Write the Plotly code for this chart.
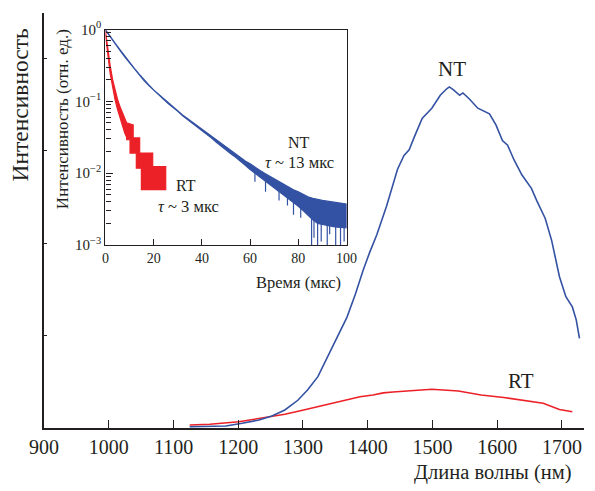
import plotly.graph_objects as go

# ---------------- main spectrum data ----------------
nt_wl = [1125, 1181, 1206, 1232, 1252, 1272, 1292, 1307, 1323, 1338, 1353, 1368, 1381, 1386,
         1393, 1403, 1414, 1429, 1446, 1456, 1464, 1472, 1484, 1499, 1512, 1522, 1526, 1532,
         1537, 1542, 1547, 1557, 1570, 1578, 1588, 1598, 1608, 1616, 1626, 1638, 1653, 1661,
         1674, 1684, 1696, 1706, 1716, 1722, 1724, 1727]
nt_int = [0.014, 0.022, 0.051, 0.086, 0.13, 0.195, 0.30, 0.41, 0.555, 0.77, 0.99, 1.20, 1.45, 1.56,
          1.71, 1.90, 2.09, 2.40, 2.80, 2.95, 3.01, 3.15, 3.35, 3.46, 3.60, 3.67, 3.69, 3.66,
          3.63, 3.60, 3.625, 3.56, 3.46, 3.43, 3.40, 3.28, 3.11, 3.06, 2.90, 2.74, 2.59, 2.46,
          2.27, 2.03, 1.64, 1.42, 1.31, 1.17, 1.10, 0.97]

rt_wl = [1125, 1156, 1201, 1242, 1272, 1301, 1323, 1358, 1388, 1408, 1424, 1439, 1499, 1540,
         1575, 1610, 1671, 1696, 1716]
rt_int = [0.032, 0.040, 0.068, 0.115, 0.148, 0.195, 0.23, 0.284, 0.338, 0.357, 0.38, 0.39, 0.42,
          0.40, 0.357, 0.33, 0.267, 0.20, 0.176]

x_ticks = [900, 1000, 1100, 1200, 1300, 1400, 1500, 1600, 1700]

# ---------------- inset decay data (log10 of intensity) ----------------
nt_t = [0, 2, 4, 6, 8, 10, 12, 14, 16, 18, 20, 22, 24, 26, 28, 30, 32, 34, 36, 38, 40, 42, 44,
        46, 48, 50, 52, 54, 56, 58, 60, 62, 64, 66, 68, 70, 72, 74, 76, 78, 80, 82, 84, 86, 88,
        90, 92, 94, 96, 98, 100]
nt_upper_log = [0.0, -0.10, -0.19, -0.28, -0.37, -0.46, -0.54, -0.62, -0.70, -0.77, -0.84, -0.90,
                -0.96, -1.02, -1.08, -1.13, -1.19, -1.24, -1.29, -1.34, -1.39, -1.44, -1.49, -1.54,
                -1.59, -1.64, -1.69, -1.73, -1.78, -1.83, -1.87, -1.92, -1.96, -2.00, -2.04, -2.08,
                -2.12, -2.16, -2.19, -2.23, -2.26, -2.30, -2.33, -2.35, -2.37, -2.38, -2.39, -2.40,
                -2.41, -2.42, -2.43]
nt_lower_log = [-0.01, -0.11, -0.20, -0.29, -0.38, -0.47, -0.55, -0.63, -0.71, -0.78, -0.85, -0.91,
                -0.97, -1.03, -1.09, -1.14, -1.20, -1.25, -1.30, -1.35, -1.41, -1.46, -1.51, -1.57,
                -1.62, -1.68, -1.73, -1.78, -1.83, -1.89, -1.95, -2.01, -2.06, -2.11, -2.16, -2.21,
                -2.26, -2.31, -2.36, -2.41, -2.46, -2.52, -2.58, -2.65, -2.70, -2.72, -2.73, -2.74,
                -2.75, -2.76, -2.76]
nt_spike_t = [62.0, 66.4, 72.0, 75.5, 78.0, 81.0, 85.5, 86.5, 88.0, 89.5, 92.0, 93.0, 95.5, 97.5, 99.0]
nt_spike_top_log = [-1.95, -2.05, -2.2, -2.25, -2.3, -2.35, -2.45, -2.45, -2.5, -2.5, -2.5, -2.5,
                    -2.5, -2.5, -2.5]
nt_spike_bottom_log = [-2.12, -2.26, -2.38, -2.45, -2.58, -2.62, -3.0, -2.9, -3.0, -2.95, -3.0,
                       -2.85, -3.0, -3.0, -2.95]

rt_upper_t = [0, 0.5, 1, 1.5, 2, 3, 4, 5, 6, 7, 8, 8.8, 11.5, 11.5, 14.2, 14.2, 19.6, 19.6, 25]
rt_upper_log = [-0.02, -0.15, -0.27, -0.40, -0.51, -0.70, -0.85, -0.97, -1.07, -1.16, -1.24, -1.30,
                -1.33, -1.51, -1.51, -1.72, -1.72, -1.91, -1.91]
rt_lower_t = [0, 0.5, 1, 1.5, 2, 3, 4, 5, 6, 7, 8, 8.8, 8.8, 10.2, 10.2, 12.8, 12.8, 14.9, 14.9, 25]
rt_lower_log = [-0.07, -0.21, -0.35, -0.49, -0.62, -0.82, -0.98, -1.11, -1.23, -1.34, -1.44, -1.50,
                -1.535, -1.535, -1.72, -1.72, -1.93, -1.93, -2.23, -2.23]

inset_x_ticks = [0, 20, 40, 60, 80, 100]
inset_y_ticks = [0.001, 0.01, 0.1, 1]
inset_y_ticktext = ["10<sup>−3</sup>", "10<sup>−2</sup>", "10<sup>−1</sup>", "10<sup>0</sup>"]
inset_minor = [m * d for d in (0.001, 0.01, 0.1) for m in (2, 3, 4, 5, 6, 7, 8, 9)]

BLUE = "#3452a3"
RED = "#ec2127"
INK = "#231f20"
FONT = "Liberation Serif"
NB = "\u00a0"

fig = go.Figure()

# main curves
fig.add_trace(go.Scatter(x=rt_wl, y=rt_int, mode="lines", line=dict(color=RED, width=1.6),
                         hoverinfo="skip", showlegend=False))
fig.add_trace(go.Scatter(x=nt_wl, y=nt_int, mode="lines", line=dict(color=BLUE, width=1.6),
                         hoverinfo="skip", showlegend=False))

# inset NT band
nt_up = [10 ** v for v in nt_upper_log]
nt_lo = [10 ** v for v in nt_lower_log]
fig.add_trace(go.Scatter(x=nt_t + nt_t[::-1], y=nt_up + nt_lo[::-1], mode="lines",
                         fill="toself", fillcolor=BLUE, line=dict(color=BLUE, width=1.2),
                         xaxis="x2", yaxis="y2", hoverinfo="skip", showlegend=False))
sx, sy = [], []
for t, a, b in zip(nt_spike_t, nt_spike_top_log, nt_spike_bottom_log):
    sx += [t, t, None]
    sy += [10 ** a, 10 ** b, None]
fig.add_trace(go.Scatter(x=sx, y=sy, mode="lines", line=dict(color=BLUE, width=1.2),
                         xaxis="x2", yaxis="y2", hoverinfo="skip", showlegend=False))

# inset RT band
rt_up = [10 ** v for v in rt_upper_log]
rt_lo = [10 ** v for v in rt_lower_log]
fig.add_trace(go.Scatter(x=rt_upper_t + rt_lower_t[::-1], y=rt_up + rt_lo[::-1], mode="lines",
                         fill="toself", fillcolor=RED, line=dict(color=RED, width=1.2),
                         xaxis="x2", yaxis="y2", hoverinfo="skip", showlegend=False))

L, R, T, B = 44, 0, 13, 63
W, H = 595, 491
pw, ph = W - L - R, H - T - B


def px(x):
    return (x - L) / pw


def py(y):
    return (H - B - y) / ph


def f(size):
    return dict(size=size, family=FONT, color=INK)


fig.update_layout(
    width=W, height=H,
    margin=dict(l=L, r=R, t=T, b=B, pad=0),
    paper_bgcolor="white", plot_bgcolor="rgba(0,0,0,0)",
    font=f(16),
    showlegend=False,
    xaxis=dict(range=[900, 1734], tickvals=x_ticks, ticks="inside", ticklen=8, tickwidth=1.3,
               tickcolor=INK, showline=True, linecolor=INK, linewidth=1.6, showgrid=False,
               zeroline=False, tickfont=f(20)),
    yaxis=dict(range=[0, 4.49], tickvals=[1, 2, 3, 4], ticks="inside", ticklen=3, tickwidth=1.2,
               tickcolor=INK, showticklabels=False, showline=True, linecolor=INK, linewidth=1.6,
               showgrid=False, zeroline=False),
    xaxis2=dict(domain=[px(106.7), px(352.7)], anchor="y2", range=[0, 100],
                tickvals=inset_x_ticks, ticks="inside", ticklen=6, tickwidth=1.2, tickcolor=INK,
                showline=True, mirror=True, linecolor=INK, linewidth=1.4, showgrid=False,
                zeroline=False, tickfont=f(14)),
    yaxis2=dict(domain=[py(245), py(29.5)], anchor="x2", type="log", range=[-3, 0],
                tickvals=inset_y_ticks, ticktext=inset_y_ticktext, ticks="inside", ticklen=7,
                tickwidth=1.1, tickcolor=INK, showline=True, mirror=True, linecolor=INK,
                linewidth=1.4, showgrid=False, zeroline=False,
                minor=dict(tickvals=inset_minor, ticks="inside", ticklen=5, tickwidth=1,
                           tickcolor=INK, showgrid=False),
                tickfont=f(15)),
)

ann = []
# main axis titles
ann.append(dict(text="Длина волны (нм)", xref="paper", yref="paper", x=px(585), y=py(472),
                xanchor="right", yanchor="middle", showarrow=False, font=f(20.5)))
ann.append(dict(text="Интенсивность", xref="paper", yref="paper", x=px(18.5), y=py(27),
                xanchor="center", yanchor="top", textangle=-90, showarrow=False, font=f(23.5)))
# main labels
ann.append(dict(text="NT", x=1530, y=3.88, xref="x", yref="y", showarrow=False, font=f(21)))
ann.append(dict(text="RT", x=1636, y=0.51, xref="x", yref="y", showarrow=False, font=f(21)))
# inset axis titles
ann.append(dict(text="Время (мкс)", xref="paper", yref="paper", x=px(349), y=py(282),
                xanchor="right", yanchor="middle", showarrow=False, font=f(16.5)))
ann.append(dict(text="Интенсивность (отн. ед.)", xref="paper", yref="paper", x=px(62.5),
                y=py(27), xanchor="center", yanchor="top", textangle=-90, showarrow=False,
                font=f(17)))
# inset labels (log axis -> y given as log10)
ann.append(dict(text="NT", x=80.2, y=-1.577, xref="x2", yref="y2", showarrow=False, font=f(16)))
ann.append(dict(text="<i>τ</i>" + NB + "~" + NB + "13 мкс", x=80.6, y=-1.856, xref="x2", yref="y2",
                showarrow=False, font=f(16.5)))
ann.append(dict(text="RT", x=33.5, y=-2.177, xref="x2", yref="y2", showarrow=False, font=f(16)))
ann.append(dict(text="<i>τ</i>" + NB + "~" + NB + "3 мкс", x=34.5, y=-2.47, xref="x2", yref="y2",
                showarrow=False, font=f(16.5)))
fig.update_layout(annotations=ann)

fig.write_html("out.html", config={"displayModeBar": False},
               post_script="document.body.style.margin='0';document.body.style.padding='0';")
